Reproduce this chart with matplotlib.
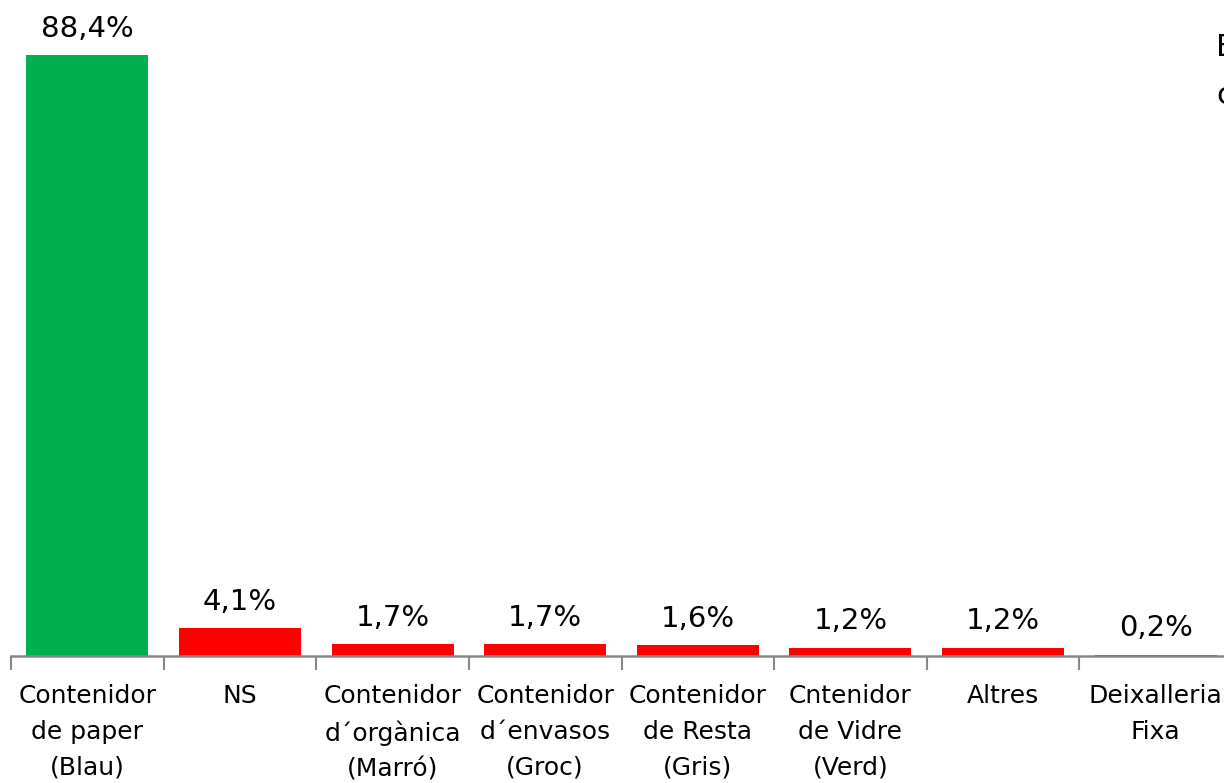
import numpy as np
import matplotlib.pyplot as plt

# Data
categories = ["Contenidor\nde paper\n(Blau)", "NS", "Contenidor\nd\u00b4org\u00e0nica\n(Marr\u00f3)",
              "Contenidor\nd\u00b4envasos\n(Groc)", "Contenidor\nde Resta\n(Gris)",
              "Cntenidor\nde Vidre\n(Verd)", "Altres", "Deixalleria\nFixa"]
values = [88.4, 4.1, 1.7, 1.7, 1.6, 1.2, 1.2, 0.2]
value_labels = ["88,4%", "4,1%", "1,7%", "1,7%", "1,6%", "1,2%", "1,2%", "0,2%"]
colors = ["#00B050"] + ["#FF0000"] * 7

W, H = 1224, 783
fig = plt.figure(figsize=(W / 100, H / 100), dpi=100)
# axes placed in pixel terms; it runs past the right edge like the original crop
left, right, base, top = 11, 1232, 656, 55
ax = fig.add_axes([left / W, (H - base) / H, (right - left) / W, (base - top) / H])

x = np.arange(len(values))
ax.bar(x, values, width=0.8, color=colors)
ax.set_xlim(-0.5, len(values) - 0.5)
ax.set_ylim(0, max(values))

for xi, v, lab in zip(x, values, value_labels):
    ax.annotate(lab, (xi, v), xytext=(0, 9), textcoords="offset points",
                ha="center", va="bottom", fontsize=21, clip_on=False)

for s in ["top", "right", "left"]:
    ax.spines[s].set_visible(False)
ax.spines["bottom"].set_color("#888888")
ax.spines["bottom"].set_linewidth(1.8)
ax.set_yticks([])

ax.set_xticks(x)
ax.set_xticklabels(categories, fontsize=18, linespacing=1.62)
ax.tick_params(axis="x", which="major", length=0, pad=20)
ax.set_xticks(np.arange(-0.5, len(values) + 0.5, 1), minor=True)
ax.tick_params(axis="x", which="minor", length=10, width=1.5, color="#888888")

# title cut off at the right edge of the original
fig.text(1216 / W, 1 - 48 / H, "E", fontsize=22, va="center", ha="left")
fig.text(1216 / W, 1 - 96 / H, "c", fontsize=22, va="center", ha="left")

fig.savefig("out.png", dpi=100)
